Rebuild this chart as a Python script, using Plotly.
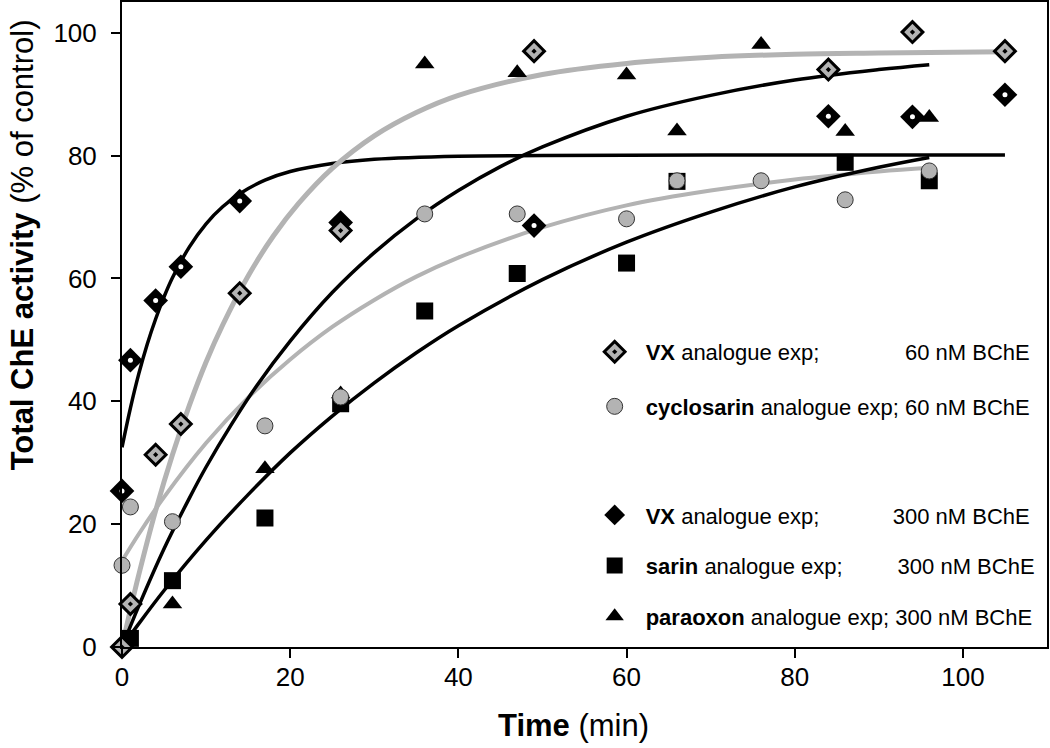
import plotly.graph_objects as go

# ---------------- data ----------------
time_vx = [0, 1, 4, 7, 14, 26, 49, 84, 94, 105]
vx60 = [0, 7.0, 31.3, 36.3, 57.6, 67.8, 97.0, 94.0, 100.1, 97.0]
vx300 = [25.4, 46.7, 56.4, 61.9, 72.6, 69.1, 68.6, 86.4, 86.3, 89.9]

time_cyclo = [0, 1, 6, 17, 26, 36, 47, 60, 66, 76, 86, 96]
cyclosarin = [13.3, 22.8, 20.4, 36.0, 40.7, 70.5, 70.5, 69.7, 75.9, 75.9, 72.8, 77.5]

time_sarin = [1, 6, 17, 26, 36, 47, 60, 66, 86, 96]
sarin = [1.4, 10.8, 21.0, 39.6, 54.7, 60.8, 62.5, 75.8, 78.9, 75.9]

time_parax = [6, 17, 26, 36, 47, 60, 66, 76, 86, 96]
paraoxon = [7.0, 29.0, 41.2, 94.9, 93.5, 93.1, 84.0, 98.1, 83.9, 86.2]

# fitted curves
fit_vx300_t = [0, 1, 2, 3, 4, 5, 6, 8, 10, 12, 14, 17, 20, 25, 30, 40, 50, 70, 105]
fit_vx300 = [32.5, 38.9, 44.5, 49.3, 53.4, 57.0, 60.1, 65.1, 68.9, 71.7, 73.8, 76.0,
             77.4, 78.7, 79.4, 79.9, 80.0, 80.1, 80.1]

fit_vx60_t = [0, 1, 2, 4, 6, 8, 10, 12, 15, 18, 21, 25, 30, 35, 40, 50, 60, 70, 80, 90, 105]
fit_vx60 = [0, 6.1, 11.8, 22.2, 31.3, 39.3, 46.4, 52.5, 60.4, 66.9, 72.2, 77.9, 83.2,
            87.0, 89.8, 93.2, 95.0, 96.0, 96.5, 96.7, 96.9]

fit_parax_t = [0, 2, 5, 8, 10, 13, 16, 20, 25, 30, 35, 40, 45, 50, 60, 70, 80, 90, 96]
fit_parax = [0, 6.7, 16.0, 24.2, 29.3, 36.2, 42.5, 49.8, 57.7, 64.2, 69.7, 74.3, 78.2,
             81.4, 86.4, 89.8, 92.3, 94.0, 94.8]

fit_cyclo_t = [0, 2, 5, 10, 15, 20, 25, 30, 35, 40, 50, 60, 70, 80, 90, 96]
fit_cyclo = [14, 18.4, 24.4, 33.2, 40.6, 46.8, 52.1, 56.5, 60.3, 63.4, 68.3, 71.9,
             74.3, 76.1, 77.4, 78.0]

fit_sarin_t = [0, 2, 5, 10, 15, 20, 25, 30, 35, 40, 50, 60, 70, 80, 90, 96]
fit_sarin = [0, 3.8, 9.2, 17.4, 24.8, 31.6, 37.6, 43.0, 47.9, 52.3, 59.8, 65.9, 70.8,
             74.9, 78.1, 79.7]

x_ticks = [0, 20, 40, 60, 80, 100]
y_ticks = [0, 20, 40, 60, 80, 100]

NB = "\u00a0"
LEAD = "\u2002"
names = {
    "vx60": LEAD + "<b>VX</b> analogue exp;" + NB * 14 + "60 nM BChE",
    "cyclo": LEAD + "<b>cyclosarin</b> analogue exp; 60 nM BChE",
    "vx300": LEAD + "<b>VX</b> analogue exp;" + NB * 12 + "300 nM BChE",
    "sarin": LEAD + "<b>sarin</b> analogue exp;" + NB * 9 + "300 nM BChE",
    "parax": LEAD + "<b>paraoxon</b> analogue exp; 300 nM BChE",
}

GRAY = "#b3b3b3"
FONT = "Liberation Sans, Arial"

fig = go.Figure()

# ---------------- fit curves ----------------
def add_line(x, y, color, width):
    fig.add_trace(go.Scatter(x=x, y=y, mode="lines", line=dict(color=color, width=width, shape="spline"),
                             showlegend=False, hoverinfo="skip", cliponaxis=False))

add_line(fit_vx300_t, fit_vx300, "black", 3.5)
add_line(fit_vx60_t, fit_vx60, GRAY, 5)
add_line(fit_cyclo_t, fit_cyclo, GRAY, 4)
add_line(fit_parax_t, fit_parax, "black", 3.5)
add_line(fit_sarin_t, fit_sarin, "black", 3.5)

# ---------------- markers ----------------
fig.add_trace(go.Scatter(x=time_parax, y=paraoxon, mode="markers", name=names["parax"],
                         marker=dict(symbol="triangle-up", size=17, color="black", line=dict(width=0)),
                         legend="legend2", legendgroup="parax", legendrank=3, cliponaxis=False))
fig.add_trace(go.Scatter(x=time_sarin, y=sarin, mode="markers", name=names["sarin"],
                         marker=dict(symbol="square", size=17, color="black", line=dict(width=0)),
                         legend="legend2", legendgroup="sarin", legendrank=2, cliponaxis=False))
fig.add_trace(go.Scatter(x=time_vx, y=vx300, mode="markers", name=names["vx300"],
                         marker=dict(symbol="diamond", size=19, color="black", line=dict(width=0)),
                         legend="legend2", legendgroup="vx300", legendrank=1, cliponaxis=False))
fig.add_trace(go.Scatter(x=time_vx, y=vx300, mode="markers", showlegend=False, hoverinfo="skip",
                         marker=dict(symbol="circle", size=5, color="white", line=dict(width=0)),
                         legend="legend2", legendgroup="vx300", cliponaxis=False))
fig.add_trace(go.Scatter(x=time_cyclo, y=cyclosarin, mode="markers", name=names["cyclo"],
                         marker=dict(symbol="circle", size=16, color=GRAY,
                                     line=dict(color="#333333", width=1)),
                         legend="legend", legendgroup="cyclo", legendrank=2, cliponaxis=False))
fig.add_trace(go.Scatter(x=time_vx, y=vx60, mode="markers", name=names["vx60"],
                         marker=dict(symbol="diamond-dot", size=16, color=GRAY,
                                     line=dict(color="black", width=3)),
                         legend="legend", legendgroup="vx60", legendrank=1, cliponaxis=False))

legend_common = dict(font=dict(family=FONT, size=22, color="black"),
                     bgcolor="rgba(0,0,0,0)", borderwidth=0,
                     xanchor="left", yanchor="top", traceorder="grouped")

axis_common = dict(showline=True, linewidth=2, linecolor="black", mirror=True,
                   ticks="outside", ticklen=9, tickwidth=2, tickcolor="black",
                   showgrid=False, zeroline=False, automargin=False,
                   tickfont=dict(family=FONT, size=26, color="black"))

fig.update_layout(
    width=1050, height=748,
    margin=dict(l=122, r=3, t=2, b=101),
    paper_bgcolor="white", plot_bgcolor="white",
    xaxis=dict(range=[0, 110], tickvals=x_ticks, ticktext=[str(v) for v in x_ticks],
               ticklabelstandoff=-3, **axis_common),
    yaxis=dict(range=[0, 105], tickvals=y_ticks, ticktext=[str(v) for v in y_ticks],
               ticklabelstandoff=9, **axis_common),
    legend=dict(x=0.511, y=0.49, tracegroupgap=23, **legend_common),
    legend2=dict(x=0.511, y=0.237, tracegroupgap=19, **legend_common),
    annotations=[
        dict(text="<b>Total ChE activity</b> (% of control)", textangle=-90,
             xref="paper", yref="paper", x=-0.108, y=0.623, xanchor="center", yanchor="middle",
             showarrow=False, font=dict(family=FONT, size=31, color="black")),
        dict(text="<b>Time</b> (min)", xref="paper", yref="paper", x=0.4876, y=-0.121,
             xanchor="center", yanchor="middle", showarrow=False,
             font=dict(family=FONT, size=31, color="black")),
    ],
)

fig.write_html("out.html", config={"displayModeBar": False},
               post_script="document.body.style.margin='0';")
